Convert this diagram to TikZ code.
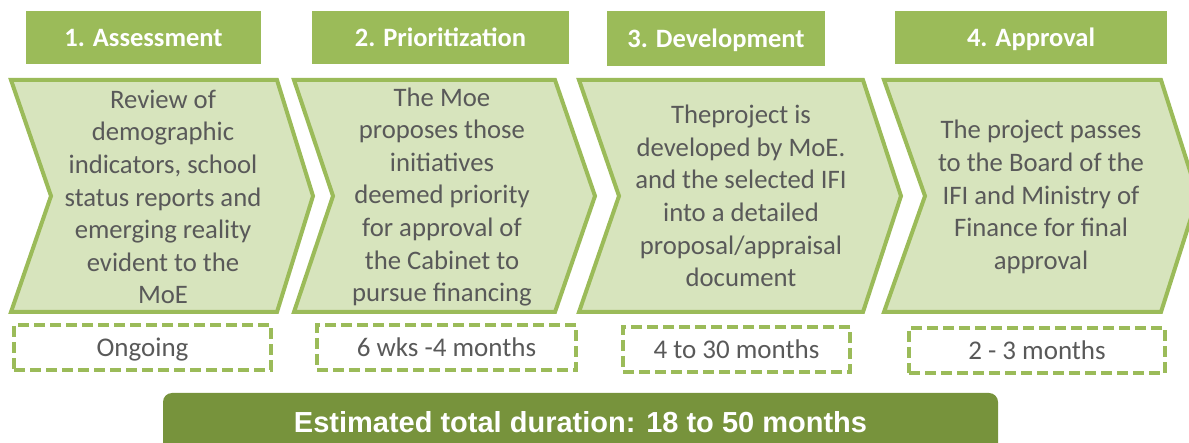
\documentclass[tikz,border=0pt]{standalone}
\usepackage{fontspec}
\setmainfont{Carlito}
\newfontfamily\barfont{Liberation Sans}
\definecolor{headgreen}{HTML}{9BBB59}
\definecolor{stepfill}{HTML}{D7E4BD}
\definecolor{bargreen}{HTML}{77933C}
\definecolor{textgray}{HTML}{595959}

\begin{document}
\begin{tikzpicture}[x=1pt,y=-1pt,
    head/.style={fill=headgreen,text=white,font=\fontsize{26.5}{31}\selectfont\bfseries,
        text height=20pt,text depth=2pt,inner sep=0pt,minimum height=53pt},
    stepshape/.style={draw=headgreen,fill=stepfill,line width=4pt,line join=miter},
    steptext/.style={text=textgray,align=center,font=\fontsize{26.7}{32.6}\selectfont},
    timebox/.style={draw=headgreen,dash pattern=on 11pt off 5pt,line width=4pt,text=textgray,
        font=\fontsize{27}{32}\selectfont,text height=20pt,text depth=2pt,inner sep=0pt,minimum height=45pt}]
    \useasboundingbox (0,0) rectangle (1189,443);
    \clip (0,0) rectangle (1189,443);

    \node (head1) [head,minimum width=235pt] at (143.5,37.5) {1. Assessment};
    \node (head2) [head,minimum width=257pt] at (440.5,37.5) {2. Prioritization};
    \node (head3) [head,minimum width=218pt,minimum height=55pt] at (716,38.5) {3. Development};
    \node (head4) [head,minimum width=272pt] at (1031,37.5) {4. Approval};

    \draw[stepshape] (11,80) -- (277,80) -- (313,196) -- (277,312) -- (11,312) -- (51,196) -- cycle;
    \draw[stepshape] (294,80) -- (555,80) -- (595,196) -- (555,312) -- (294,312) -- (333,196) -- cycle;
    \draw[stepshape] (579,80) -- (863,80) -- (901,196) -- (863,312) -- (579,312) -- (619,196) -- cycle;
    \draw[stepshape] (884,80) -- (1161,80) -- (1198,196) -- (1161,312) -- (884,312) -- (925,196) -- cycle;

    \node (step1) [steptext] at (163,197) {Review of\\demographic\\indicators, school\\status reports and\\emerging reality\\evident to the\\MoE};
    \node (step2) [steptext] at (442,197) {The Moe\\proposes those\\initiatives\\deemed priority\\for approval of\\the Cabinet to\\pursue financing};
    \node (step3) [steptext] at (741,196) {Theproject is\\developed by MoE.\\and the selected IFI\\into a detailed\\proposal/appraisal\\document};
    \node (step4) [steptext] at (1041,197) {The project passes\\to the Board of the\\IFI and Ministry of\\Finance for final\\approval};

    \node (time1) [timebox,minimum width=257pt] at (142.5,347.5) {Ongoing};
    \node (time2) [timebox,minimum width=259pt] at (446.5,347.5) {6 wks -4 months};
    \node (time3) [timebox,minimum width=227pt] at (736.5,349.5) {4 to 30 months};
    \node (time4) [timebox,minimum width=256pt] at (1037,350.5) {2 - 3 months};

    \fill[bargreen,rounded corners=9pt] (163,393) rectangle (998,470);
    \node (total) [anchor=base,text=white,font=\barfont\bfseries\fontsize{29}{34}\selectfont] at (580.5,432) {Estimated total duration: 18 to 50 months};
\end{tikzpicture}
\end{document}
